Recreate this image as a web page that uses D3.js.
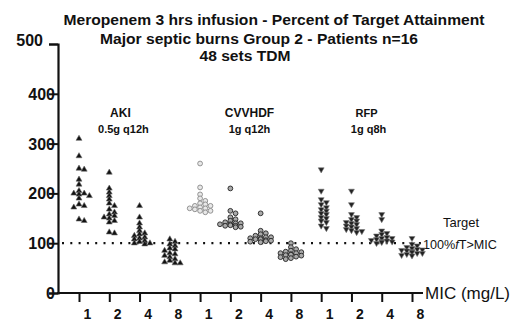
<!DOCTYPE html>
<html><head><meta charset="utf-8">
<script src="https://cdn.jsdelivr.net/npm/d3@7/dist/d3.min.js"></script>
<style>html,body{margin:0;padding:0;background:#fff;}svg{display:block;font-family:"Liberation Sans",Arial,sans-serif;}</style>
</head><body>
<svg id="c" width="519" height="332"></svg>
<script>
// ---- data ----
const groups = ["AKI", "CVVHDF", "RFP"];
const regimens = ["0.5g q12h", "1g q12h", "1g q8h"];
const micLabels = ["1", "2", "4", "8"];
const yTicks = [0, 100, 200, 300, 400, 500];
const targetValue = 100;

const akiMic1 = [310, 275, 250, 248, 228, 218, 205, 200, 200, 198, 195, 190, 178, 175, 172, 148, 145];
const akiMic2 = [242, 210, 202, 195, 188, 180, 175, 168, 162, 158, 155, 152, 150, 145, 142, 122, 120];
const akiMic4 = [175, 152, 140, 132, 125, 120, 118, 115, 112, 110, 108, 105, 103, 100, 100, 98];
const akiMic8 = [108, 103, 98, 95, 90, 88, 85, 80, 78, 75, 72, 68, 65, 62, 60, 60];
const cvvMic1 = [260, 212, 198, 190, 185, 180, 178, 175, 175, 172, 170, 170, 168, 165, 165, 162];
const cvvMic2 = [210, 165, 160, 152, 148, 145, 142, 140, 140, 138, 138, 136, 135, 135, 133, 132];
const cvvMic4 = [160, 125, 120, 118, 115, 112, 112, 110, 110, 108, 108, 106, 105, 104, 103, 102];
const cvvMic8 = [100, 92, 88, 85, 83, 82, 80, 80, 78, 77, 76, 75, 73, 72, 70, 68];
const rfpMic1 = [248, 205, 188, 182, 178, 172, 168, 165, 160, 158, 152, 150, 145, 142, 135, 130];
const rfpMic2 = [205, 178, 158, 152, 148, 145, 142, 140, 138, 135, 133, 130, 128, 126, 124, 122];
const rfpMic4 = [158, 148, 125, 120, 118, 115, 112, 110, 110, 108, 106, 105, 104, 103, 102, 100];
const rfpMic8 = [110, 98, 95, 92, 90, 88, 87, 86, 85, 84, 82, 80, 80, 78, 76, 75];

const seriesByGroup = [
  [akiMic1, akiMic2, akiMic4, akiMic8],
  [cvvMic1, cvvMic2, cvvMic4, cvvMic8],
  [rfpMic1, rfpMic2, rfpMic4, rfpMic8]
];

// ---- build columns ----
const columns = [];
seriesByGroup.forEach((arr, gi) => arr.forEach((vals, mi) => {
  columns.push({key: groups[gi] + "-" + micLabels[mi], group: gi, mic: micLabels[mi], values: vals});
}));

const svg = d3.select("#c");
const x = d3.scalePoint().domain(columns.map(c => c.key)).range([79, 412]);
const y = d3.scaleLinear().domain([0, 500]).range([293, 44]);
const xAxisEnd = 423, yAxisX = 58;

// ---- titles ----
const title = svg.append("g").attr("font-weight", "bold").attr("text-anchor", "middle").attr("fill", "#111");
title.append("text").attr("x", 274).attr("y", 25).attr("font-size", 14)
  .attr("textLength", 421).attr("lengthAdjust", "spacingAndGlyphs")
  .text("Meropenem 3 hrs infusion - Percent of Target Attainment");
title.append("text").attr("x", 259).attr("y", 44).attr("font-size", 14)
  .attr("textLength", 318).attr("lengthAdjust", "spacingAndGlyphs")
  .text("Major septic burns Group 2 - Patients n=16");
title.append("text").attr("x", 245).attr("y", 61).attr("font-size", 14)
  .attr("textLength", 91).attr("lengthAdjust", "spacingAndGlyphs")
  .text("48 sets TDM");

// ---- target line ----
svg.append("line")
  .attr("x1", 62).attr("x2", 421)
  .attr("y1", y(targetValue)).attr("y2", y(targetValue))
  .attr("stroke", "#111").attr("stroke-width", 2.2)
  .attr("stroke-dasharray", "2,6.3");

// ---- axes ----
const yAxis = d3.axisLeft(y).tickValues(yTicks).tickSize(9).tickPadding(0).tickFormat(d3.format("d"));
const gy = svg.append("g").attr("transform", `translate(${yAxisX},0)`).call(yAxis);
gy.select(".domain").attr("stroke", "#111").attr("stroke-width", 2.2);
gy.selectAll(".tick line").attr("stroke", "#111").attr("stroke-width", 2);
gy.selectAll(".tick text").attr("font-size", 16).attr("font-weight", "bold").attr("fill", "#111")
  .attr("font-family", "Liberation Sans, Arial, sans-serif")
  .attr("x", d => d === 500 ? -15 : -3)
  .attr("dy", d => d === 500 ? "0.1em" : "0.34em");

svg.append("line").attr("x1", yAxisX - 1).attr("x2", xAxisEnd)
  .attr("y1", y(0)).attr("y2", y(0)).attr("stroke", "#111").attr("stroke-width", 2.2);
const xAxis = d3.axisBottom(x).tickSize(9).tickSizeOuter(0).tickFormat(k => columns.find(c => c.key === k).mic);
const gx = svg.append("g").attr("transform", `translate(0,${y(0)})`).call(xAxis);
gx.select(".domain").remove();
gx.selectAll(".tick line").attr("stroke", "#111").attr("stroke-width", 2);
gx.selectAll(".tick text").attr("font-size", 14).attr("font-weight", "bold").attr("fill", "#111")
  .attr("font-family", "Liberation Sans, Arial, sans-serif")
  .attr("x", 8).attr("y", 16);

svg.append("text").attr("x", 425).attr("y", y(0) + 6).attr("font-size", 17).attr("fill", "#111")
  .text("MIC (mg/L)");

// ---- group labels ----
const groupLabelX = gi => d3.mean(columns.filter(c => c.group === gi).slice(1, 3), c => x(c.key));
groups.forEach((g, gi) => {
  const cx = groupLabelX(gi) + [-4, 4, 0][gi];
  svg.append("text").attr("x", cx).attr("y", 117).attr("text-anchor", "middle")
    .attr("font-size", gi === 2 ? 11 : 12).attr("font-weight", "bold").attr("fill", "#111").text(g);
  svg.append("text").attr("x", cx + [3, 0, 2][gi]).attr("y", 133).attr("text-anchor", "middle")
    .attr("font-size", 11).attr("font-weight", "bold").attr("fill", "#111").text(regimens[gi]);
});

// ---- target label ----
const tl = svg.append("g").attr("font-family", "Liberation Sans Narrow, Arial Narrow, Liberation Sans, sans-serif").attr("fill", "#111");
tl.append("text").attr("x", 461).attr("y", 227).attr("text-anchor", "middle").attr("font-size", 13).text("Target");
const t2 = tl.append("text").attr("x", 423).attr("y", 249).attr("font-size", 13)
  .attr("textLength", 74).attr("lengthAdjust", "spacingAndGlyphs");
t2.append("tspan").text("100%");
t2.append("tspan").attr("font-style", "italic").text("f");
t2.append("tspan").text("T>MIC");

// ---- points (dodged column scatter) ----
function dodge(vals, cx) {
  const placed = [];
  const sorted = vals.slice().sort((a, b) => b - a);
  const step = 2.6, wx = 4.2, wy = 3.2, maxK = 8;
  sorted.forEach(v => {
    const py = y(v);
    let best = null, bestHits = Infinity;
    for (let k = 0; k <= maxK; k++) {
      const off = (k % 2 === 1 ? 1 : -1) * Math.ceil(k / 2) * step;
      const px = cx + off;
      const hits = placed.filter(p => Math.abs(p.x - px) < wx && Math.abs(p.y - py) < wy).length;
      if (hits < bestHits) { bestHits = hits; best = px; }
      if (hits === 0) break;
    }
    placed.push({x: best, y: py, v});
  });
  return placed;
}

const symTri = d3.symbol().type(d3.symbolTriangle).size(15);
const symCirc = d3.symbol().type(d3.symbolCircle).size(18);
columns.forEach(c => {
  const pts = dodge(c.values, x(c.key));
  const g = svg.append("g");
  pts.forEach(p => {
    if (c.group === 0) {
      g.append("path").attr("d", symTri()).attr("transform", `translate(${p.x},${p.y})`)
        .attr("fill", "#111").attr("stroke", "#666").attr("stroke-width", 0.6);
    } else if (c.group === 1) {
      g.append("path").attr("d", symCirc()).attr("transform", `translate(${p.x},${p.y})`)
        .attr("fill", c.mic === "1" ? "#e8e8e8" : "#aaa").attr("stroke", c.mic === "1" ? "#888" : "#222").attr("stroke-width", 0.9);
    } else {
      g.append("path").attr("d", symTri()).attr("transform", `translate(${p.x},${p.y}) rotate(180)`)
        .attr("fill", "#222").attr("stroke", "#777").attr("stroke-width", 0.6);
    }
  });
});
</script>
</body></html>
